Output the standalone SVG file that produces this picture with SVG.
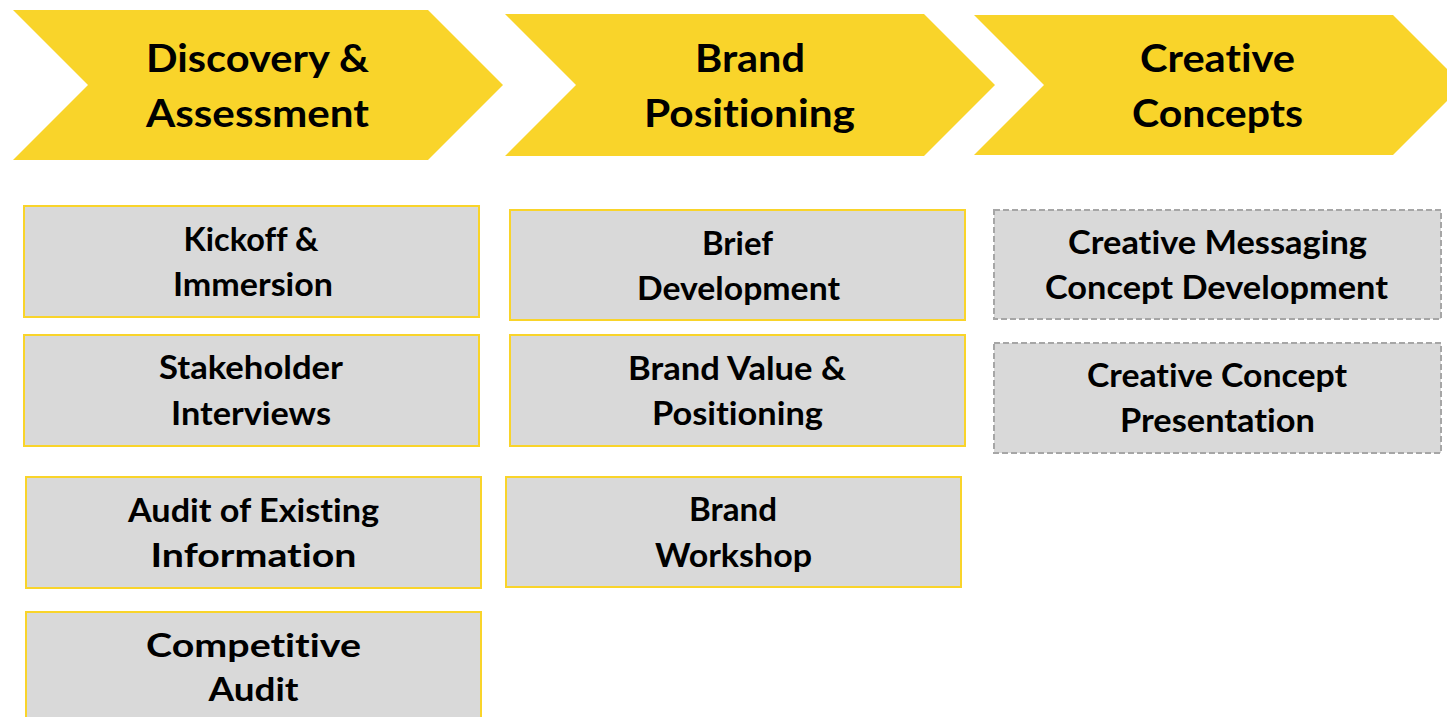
<svg xmlns="http://www.w3.org/2000/svg" width="1447" height="717" viewBox="0 0 1447 717">
<style>
.chev{fill:#F9D42A;}
.box{fill:#D9D9D9;stroke:#F9D42A;stroke-width:2;}
.dbox{fill:#D9D9D9;stroke:#A6A6A6;stroke-width:2;stroke-dasharray:6 3;}
text{font-family:Lato,"Open Sans","Liberation Sans",sans-serif;font-weight:bold;fill:#000;text-anchor:middle;font-variant-ligatures:none;font-feature-settings:"liga" 0,"clig" 0,"dlig" 0;}
.ht{font-size:39px;}
.bt{font-size:32px;}
</style>
<rect width="1447" height="717" fill="#fff"/>
<g id="phase-discovery">
<polygon class="chev" points="13,10 428,10 503,85 428,160 13,160 88,85"/>
<text class="ht" x="257.5" y="72" textLength="223" lengthAdjust="spacingAndGlyphs">Discovery &amp;</text>
<text class="ht" x="257.5" y="127" textLength="223" lengthAdjust="spacingAndGlyphs">Assessment</text>
</g>
<g id="phase-brand">
<polygon class="chev" points="505,14 924,14 995,85 924,156 505,156 576,85"/>
<text class="ht" x="750" y="72" textLength="110" lengthAdjust="spacingAndGlyphs">Brand</text>
<text class="ht" x="749.5" y="127" textLength="211" lengthAdjust="spacingAndGlyphs">Positioning</text>
</g>
<g id="phase-creative">
<polygon class="chev" points="974,15 1393,15 1463,85 1393,155 974,155 1044,85"/>
<text class="ht" x="1217.5" y="72" textLength="155" lengthAdjust="spacingAndGlyphs">Creative</text>
<text class="ht" x="1217.5" y="127" textLength="171" lengthAdjust="spacingAndGlyphs">Concepts</text>
</g>
<g id="kickoff">
<rect class="box" x="24" y="206" width="455" height="111"/>
<text class="bt" x="251" y="251" textLength="135" lengthAdjust="spacingAndGlyphs">Kickoff &amp;</text>
<text class="bt" x="253" y="296" textLength="160" lengthAdjust="spacingAndGlyphs">Immersion</text>
</g>
<g id="stakeholder">
<rect class="box" x="24" y="335" width="455" height="111"/>
<text class="bt" x="251" y="379" textLength="184" lengthAdjust="spacingAndGlyphs">Stakeholder</text>
<text class="bt" x="251" y="425" textLength="160" lengthAdjust="spacingAndGlyphs">Interviews</text>
</g>
<g id="audit-existing">
<rect class="box" x="26" y="477" width="455" height="111"/>
<text class="bt" x="253.5" y="522" textLength="251" lengthAdjust="spacingAndGlyphs">Audit of Existing</text>
<text class="bt" x="253.5" y="567" textLength="206" lengthAdjust="spacingAndGlyphs">Information</text>
</g>
<g id="competitive">
<rect class="box" x="26" y="612" width="455" height="120"/>
<text class="bt" x="253.5" y="657" textLength="215" lengthAdjust="spacingAndGlyphs">Competitive</text>
<text class="bt" x="253.5" y="701" textLength="90" lengthAdjust="spacingAndGlyphs">Audit</text>
</g>
<g id="brief">
<rect class="box" x="510" y="210" width="455" height="110"/>
<text class="bt" x="737.5" y="255" textLength="71" lengthAdjust="spacingAndGlyphs">Brief</text>
<text class="bt" x="738.5" y="300" textLength="203" lengthAdjust="spacingAndGlyphs">Development</text>
</g>
<g id="brand-value">
<rect class="box" x="510" y="335" width="455" height="111"/>
<text class="bt" x="737" y="380" textLength="218" lengthAdjust="spacingAndGlyphs">Brand Value &amp;</text>
<text class="bt" x="737.5" y="425" textLength="171" lengthAdjust="spacingAndGlyphs">Positioning</text>
</g>
<g id="workshop">
<rect class="box" x="506" y="477" width="455" height="110"/>
<text class="bt" x="733" y="521" textLength="88" lengthAdjust="spacingAndGlyphs">Brand</text>
<text class="bt" x="733.5" y="567" textLength="157" lengthAdjust="spacingAndGlyphs">Workshop</text>
</g>
<g id="creative-messaging">
<rect class="dbox" x="994" y="210" width="447" height="109"/>
<text class="bt" x="1217.5" y="254" textLength="299" lengthAdjust="spacingAndGlyphs">Creative Messaging</text>
<text class="bt" x="1216.5" y="299" textLength="343" lengthAdjust="spacingAndGlyphs">Concept Development</text>
</g>
<g id="creative-presentation">
<rect class="dbox" x="994" y="343" width="447" height="110"/>
<text class="bt" x="1217" y="387" textLength="260" lengthAdjust="spacingAndGlyphs">Creative Concept</text>
<text class="bt" x="1217.5" y="432" textLength="195" lengthAdjust="spacingAndGlyphs">Presentation</text>
</g>
<g id="connectors"></g>
</svg>
